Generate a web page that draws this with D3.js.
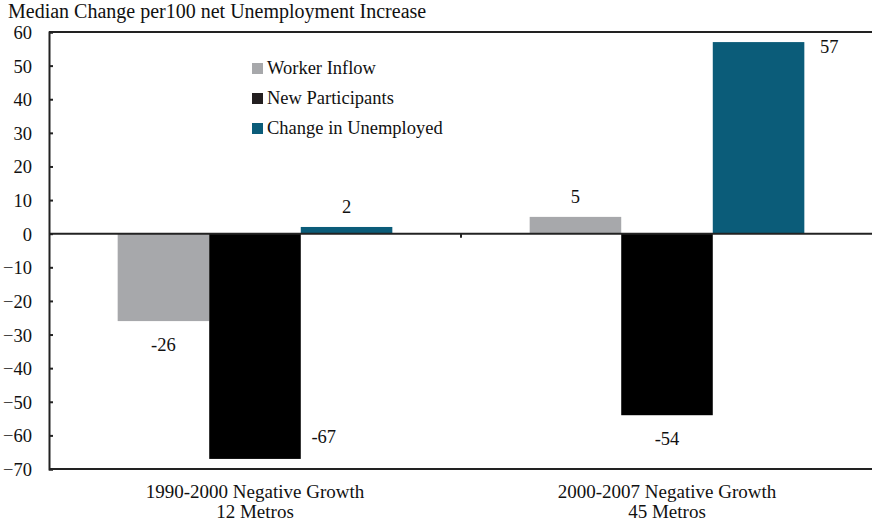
<!DOCTYPE html>
<html><head><meta charset="utf-8">
<script src="https://cdn.jsdelivr.net/npm/d3@7"></script>
<style>body{margin:0;background:#fff}svg{display:block}svg text{font-family:"Liberation Serif","DejaVu Serif",serif !important;fill:#111}</style>
</head><body><svg id="c" width="872" height="522"></svg>
<script>
const categories = [["1990-2000 Negative Growth","12 Metros"],["2000-2007 Negative Growth","45 Metros"]];
const seriesNames = ["Worker Inflow","New Participants","Change in Unemployed"];
const seriesColors = ["#a7a8ab","#000000","#0b5c79"];
const workerInflow = [-26, 5];
const newParticipants = [-67, -54];
const changeUnemployed = [2, 57];
const yTicks = [60,50,40,30,20,10,0,-10,-20,-30,-40,-50,-60,-70];
const title = "Median Change per100 net Unemployment Increase";

const FONT = "Liberation Serif, DejaVu Serif, serif";
const FS = 18.5;
const series = [workerInflow, newParticipants, changeUnemployed];
const svg = d3.select("#c");
const L = 49, R = 873, T = 32, B = 469;
const y = d3.scaleLinear().domain([-70,60]).range([B,T]);
const x0 = d3.scaleBand().domain(d3.range(categories.length)).range([L,R]).paddingInner(1/3).paddingOuter(1/6);
const x1 = d3.scaleBand().domain(d3.range(series.length)).range([0,x0.bandwidth()]);

svg.append("text").attr("x",8).attr("y",18).style("font-family",FONT).attr("font-size",20).text(title);

// bars
series.forEach((vals,si)=>{
  svg.append("g").selectAll("rect").data(vals).join("rect")
    .attr("x",(d,i)=>x0(i)+x1(si))
    .attr("width",x1.bandwidth())
    .attr("y",d=>y(Math.max(0,d)))
    .attr("height",d=>Math.abs(y(d)-y(0)))
    .attr("fill",seriesColors[si]);
});

// frame
svg.append("line").attr("x1",L).attr("x2",R).attr("y1",T).attr("y2",T).attr("stroke","#222").attr("stroke-width",2);
svg.append("line").attr("x1",L).attr("x2",R).attr("y1",B).attr("y2",B).attr("stroke","#222").attr("stroke-width",2);
svg.append("line").attr("x1",L).attr("x2",R).attr("y1",y(0)).attr("y2",y(0)).attr("stroke","#222").attr("stroke-width",2);

// y axis
const ya = d3.axisLeft(y).tickValues(yTicks).tickSize(-4).tickPadding(17).tickFormat(d3.format("d"));
const g = svg.append("g").attr("transform",`translate(${L},0)`).call(ya);
g.attr("font-family",FONT);
g.select(".domain").attr("stroke","#222").attr("stroke-width",2);
g.selectAll(".tick line").attr("stroke","#222").attr("stroke-width",2);
g.selectAll(".tick text").attr("font-size",FS).attr("fill","#111").style("font-family",FONT).attr("dy","0.35em");

// category divider tick
svg.append("line").attr("x1",(L+R)/2).attr("x2",(L+R)/2).attr("y1",y(0)).attr("y2",y(0)+4).attr("stroke","#222").attr("stroke-width",2);

// category labels
categories.forEach((c,i)=>{
  const cx = x0(i)+x0.bandwidth()/2;
  const t = svg.append("text").attr("x",cx).attr("y",498).attr("text-anchor","middle").style("font-family",FONT).attr("font-size",19);
  c.forEach((ln,j)=>t.append("tspan").attr("x",cx).attr("dy",j?20:0).text(ln));
});

// value labels
series.forEach((vals,si)=>{
  vals.forEach((d,i)=>{
    const cx = x1(si)+x0(i)+x1.bandwidth()/2;
    let tx = cx, ty;
    if (d >= 0) {
      ty = y(d) - 14;
      if (ty < T + 10) { tx = x0(i)+x1(si)+x1.bandwidth()+25; ty = y(d)+11; }
    } else {
      ty = y(d) + 30;
      if (ty > B - 6) { tx = x0(i)+x1(si)+x1.bandwidth()+23; ty = y(d)-16; }
    }
    svg.append("text").attr("x",tx).attr("y",ty).attr("text-anchor","middle").style("font-family",FONT).attr("font-size",FS).text(d);
  });
});

// legend
seriesNames.forEach((n,i)=>{
  const ly = 68 + i*30;
  svg.append("rect").attr("x",252).attr("y",ly-5).attr("width",11).attr("height",11).attr("fill",seriesColors[i]==="#000000"?"#231f20":seriesColors[i]);
  svg.append("text").attr("x",267).attr("y",ly+6).style("font-family",FONT).attr("font-size",FS).text(n);
});
</script></body></html>
